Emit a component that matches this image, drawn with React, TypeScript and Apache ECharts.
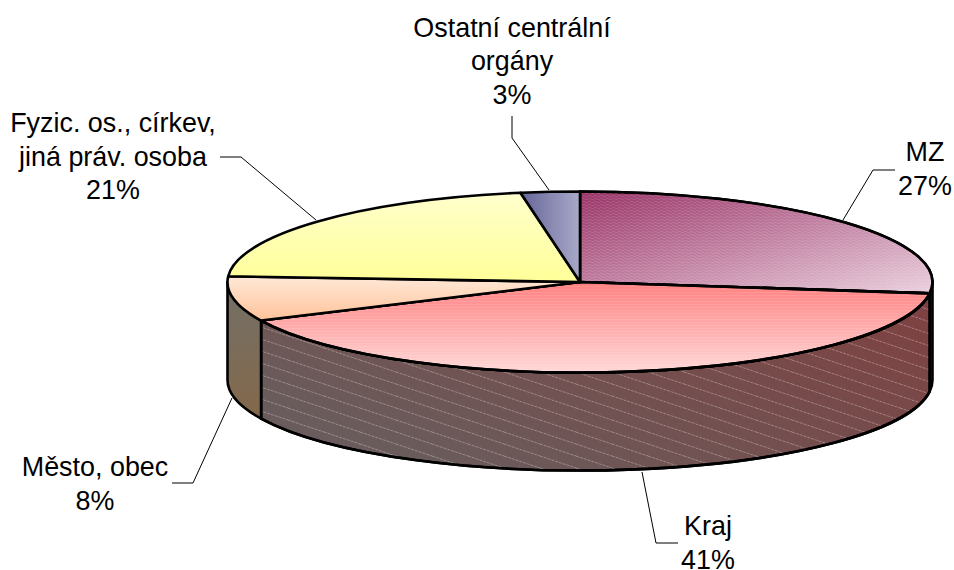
import React, { useEffect, useRef } from "react";
import * as echarts from "echarts";

const categories = ["MZ", "Kraj", "Město, obec", "Fyzic. os., církev, jiná práv. osoba", "Ostatní centrální orgány"];
const values = [27, 41, 8, 21.3, 2.7];

const CX = 580;
const CY = 282;
const RX = 352.5;
const RY = 90.5;
const DEPTH = 98;
const STROKE = 2.6;
const FONT = '"Liberation Sans", Arial, sans-serif';
const FONT_SIZE = 26.9;
const LINE_H = 33.5;

const labelLayout = [
  { lines: ["MZ", "27%"], x: 925, y: 152 },
  { lines: ["Kraj", "41%"], x: 708, y: 526 },
  { lines: ["Město, obec", "8%"], x: 95, y: 467 },
  { lines: ["Fyzic. os., církev,", "jiná práv. osoba", "21%"], x: 113, y: 123 },
  { lines: ["Ostatní centrální", "orgány", "3%"], x: 512, y: 27.5 },
];

const leaderLines = [
  [[895, 170], [873, 170], [843, 220]],
  [[642, 472], [656, 543], [678, 543]],
  [[232, 398], [193, 483], [172, 483]],
  [[220, 157], [241, 157], [316, 220]],
  [[512, 116], [512, 138], [549, 190]],
];

const LG = echarts.graphic.LinearGradient;
const stops = (a: string, b: string) => [
  { offset: 0, color: a },
  { offset: 1, color: b },
];
const topFills = [
  new LG(0, 0, 1, 1, stops("#993366", "#ead0de")),
  new LG(0, 0, 0, 1, stops("#ff8080", "#ffd8d8")),
  new LG(0, 0, 0, 1, stops("#ffe9d8", "#ffc299")),
  new LG(0, 0, 0, 1, stops("#ffffcc", "#ffff99")),
  new LG(0, 0, 1, 0, stops("#666699", "#a9a9c9")),
];
const sideFills = [
  "#7d3f3f",
  new LG(1, 0, 0, 0.6, stops("#7f4040", "#6a5c5c")),
  new LG(0, 0, 0, 1, stops("#737068", "#84684a")),
  "#777",
  "#555",
];

function makeTile(w: number, h: number, draw: (c: CanvasRenderingContext2D) => void) {
  const canvas = document.createElement("canvas");
  canvas.width = w;
  canvas.height = h;
  const c = canvas.getContext("2d")!;
  draw(c);
  return { image: canvas, repeat: "repeat", imageWidth: w, imageHeight: h };
}

function App() {
  const ref = useRef<HTMLDivElement>(null);
  useEffect(() => {
    document.body.style.margin = "0";
    const chart = echarts.init(ref.current!, null, { renderer: "svg", width: 954, height: 570 });
    const total = values.reduce((a, b) => a + b, 0);
    const cum: number[] = [];
    values.reduce((acc, v, i) => {
      cum[i] = acc;
      return acc + v;
    }, 0);
    const pt = (t: number, dy = 0) => [CX + RX * Math.sin(t), CY - RY * Math.cos(t) + dy];
    const ang = (v: number) => (v / total) * Math.PI * 2;

    const hatchTop = [
      makeTile(6, 3, (c) => {
        c.strokeStyle = "rgba(255,255,255,0.14)";
        c.lineWidth = 1;
        for (let i = -1; i <= 1; i++) {
          c.beginPath();
          c.moveTo(0, i * 3 + 0);
          c.lineTo(6, i * 3 + 2);
          c.stroke();
        }
      }),
      makeTile(4, 3, (c) => {
        c.fillStyle = "rgba(255,255,255,0.1)";
        c.fillRect(0, 1, 4, 1);
      }),
    ];
    const hatchSide = makeTile(36, 12, (c) => {
      c.strokeStyle = "rgba(255,255,255,0.3)";
      c.lineWidth = 1;
      c.setLineDash([3, 1]);
      for (let i = -3; i <= 1; i++) {
        c.beginPath();
        c.moveTo(0, i * 12);
        c.lineTo(36, i * 12 + 12);
        c.stroke();
      }
    });

    const renderSide = (params: any, api: any) => {
      const i = params.dataIndex;
      const t0 = Math.max(ang(cum[i]), Math.PI / 2);
      const t1 = Math.min(ang(cum[i] + api.value(0)), (Math.PI * 3) / 2);
      if (t1 <= t0) return { type: "group", children: [] };
      const a = pt(t0);
      const b = pt(t1);
      const c = pt(t1, DEPTH);
      const d = pt(t0, DEPTH);
      const large = t1 - t0 > Math.PI ? 1 : 0;
      const pathData = `M${a[0]} ${a[1]}A${RX} ${RY} 0 ${large} 1 ${b[0]} ${b[1]}L${c[0]} ${c[1]}A${RX} ${RY} 0 ${large} 0 ${d[0]} ${d[1]}Z`;
      const children: any[] = [
        { type: "path", shape: { pathData }, style: { fill: sideFills[i], stroke: "#000", lineWidth: STROKE, lineJoin: "round" } },
      ];
      if (i === 1) {
        children.push({ type: "path", shape: { pathData }, style: { fill: hatchSide, stroke: "#000", lineWidth: STROKE, lineJoin: "round" } });
      }
      return { type: "group", children };
    };

    const renderTop = (params: any, api: any) => {
      const i = params.dataIndex;
      const t0 = ang(cum[i]);
      const t1 = ang(cum[i] + api.value(0));
      const a = pt(t0);
      const b = pt(t1);
      const large = t1 - t0 > Math.PI ? 1 : 0;
      const pathData = `M${CX} ${CY}L${a[0]} ${a[1]}A${RX} ${RY} 0 ${large} 1 ${b[0]} ${b[1]}Z`;
      const children: any[] = [
        { type: "path", shape: { pathData }, style: { fill: topFills[i], stroke: "#000", lineWidth: STROKE, lineJoin: "round" } },
      ];
      if (hatchTop[i]) {
        children.push({ type: "path", shape: { pathData }, style: { fill: hatchTop[i], stroke: "#000", lineWidth: STROKE, lineJoin: "round" } });
      }
      return { type: "group", children };
    };

    const seriesData = categories.map((name, i) => ({ name, value: values[i] }));

    const textEls: any[] = [];
    labelLayout.forEach((l) => {
      l.lines.forEach((line, k) => {
        textEls.push({
          type: "text",
          x: l.x,
          y: l.y + k * LINE_H,
          silent: true,
          style: {
            text: line,
            fill: "#000",
            font: `${FONT_SIZE}px ${FONT}`,
            textAlign: "center",
            textVerticalAlign: "middle",
          },
        });
      });
    });
    const lineEls = leaderLines.map((points) => ({
      type: "polyline",
      silent: true,
      z: -1,
      shape: { points },
      style: { fill: "none", stroke: "#000", lineWidth: 1 },
    }));

    chart.setOption({
      animation: false,
      backgroundColor: "#fff",
      tooltip: { show: false },
      graphic: { elements: [...lineEls, ...textEls] },
      series: [
        { type: "custom", coordinateSystem: "none", z: 2, silent: true, renderItem: renderSide, data: seriesData, encode: { value: 0 } },
        { type: "custom", coordinateSystem: "none", z: 3, silent: true, renderItem: renderTop, data: seriesData, encode: { value: 0 } },
      ],
    });
    return () => chart.dispose();
  }, []);
  return <div ref={ref} style={{ width: 954, height: 570 }} />;
}

export default App;
